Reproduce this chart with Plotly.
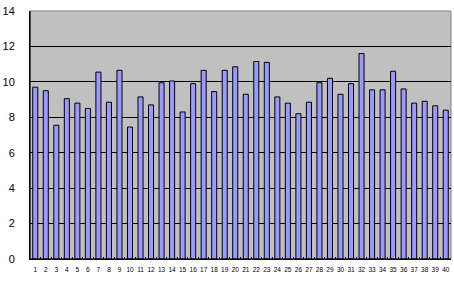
import plotly.graph_objects as go

categories = [str(i) for i in range(1, 41)]
values = [9.7, 9.5, 7.55, 9.05, 8.8, 8.5, 10.55, 8.85, 10.65, 7.45,
          9.15, 8.7, 9.95, 10.05, 8.3, 9.9, 10.65, 9.45, 10.65, 10.85,
          9.3, 11.15, 11.1, 9.15, 8.8, 8.2, 8.85, 9.95, 10.2, 9.3,
          9.9, 11.6, 9.55, 9.55, 10.6, 9.6, 8.8, 8.9, 8.65, 8.4]
y_ticks = [0, 2, 4, 6, 8, 10, 12, 14]

fig = go.Figure(go.Bar(
    x=categories, y=values,
    marker=dict(color="#9999FF", line=dict(color="#000000", width=1)),
))

fig.update_layout(
    width=454, height=284,
    margin=dict(l=29.5, r=2.5, t=11, b=25, autoexpand=False),
    plot_bgcolor="#C0C0C0", paper_bgcolor="#FFFFFF",
    bargap=0.52, showlegend=False,
    font=dict(family="Liberation Sans, Arial, sans-serif", color="#000000"),
)
fig.update_xaxes(
    type="category", showgrid=False, showline=True, linecolor="#000000", linewidth=1,
    mirror=False, ticks="inside", ticklen=2, tickcolor="#000000", tickson="boundaries",
    tickfont=dict(size=6.5), tickangle=0, ticklabelstandoff=4, automargin=False,
)
fig.update_yaxes(
    range=[0, 14], tickvals=y_ticks, showgrid=True, gridcolor="#000000", gridwidth=1,
    showline=True, linecolor="#000000", linewidth=1, zeroline=False,
    ticks="", tickfont=dict(size=11), ticklabelstandoff=12, automargin=False,
)
fig.add_shape(type="rect", xref="paper", yref="paper", x0=0, y0=0, x1=1, y1=1,
              line=dict(color="#808080", width=1), layer="below")
fig.add_shape(type="line", xref="paper", yref="paper", x0=0, y0=0, x1=0, y1=1,
              line=dict(color="#000000", width=1))
fig.add_shape(type="line", xref="paper", yref="paper", x0=0, y0=0, x1=1, y1=0,
              line=dict(color="#000000", width=1))

fig.write_html("out.html", config={"displayModeBar": False},
               post_script="document.body.style.margin='0';document.body.style.overflow='hidden';")
